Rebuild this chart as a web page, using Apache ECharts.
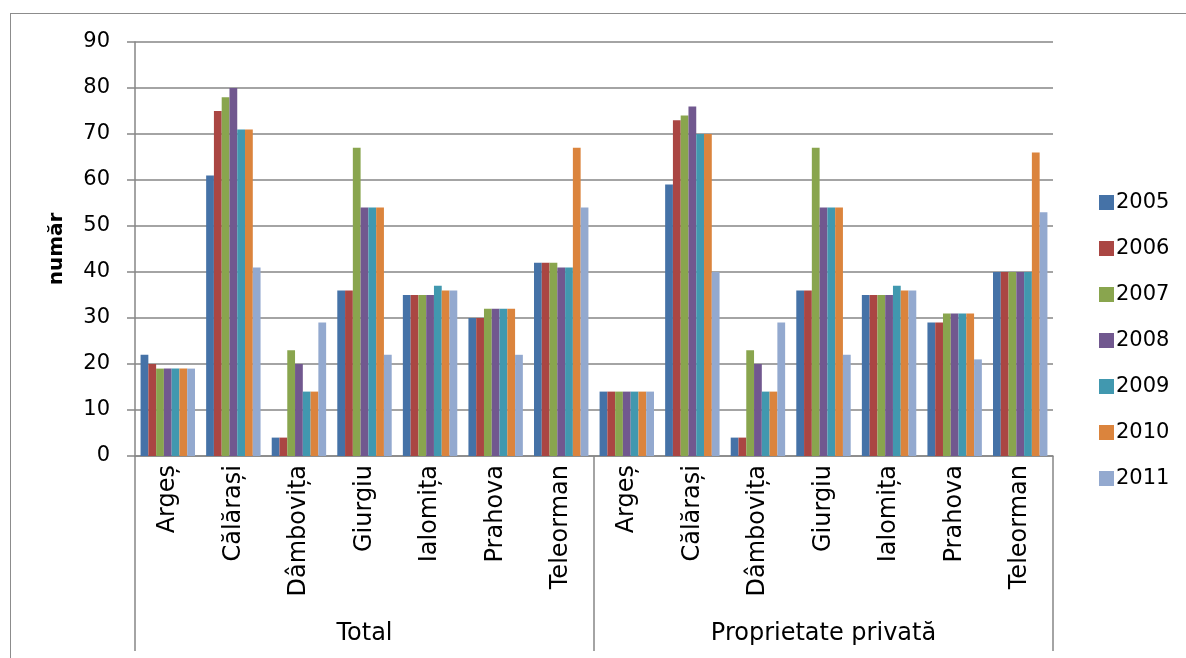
<!DOCTYPE html>
<html>
<head>
<meta charset="utf-8">
<script src="https://cdn.jsdelivr.net/npm/echarts@6/dist/echarts.min.js"></script>
<style>
  html, body { margin: 0; padding: 0; background: #fff; }
  #chart { width: 1186px; height: 658px; }
  #frame { position: absolute; left: 10px; top: 13px; width: 1200px; height: 700px; border: 1.5px solid #8c8c8c; pointer-events: none; }
</style>
</head>
<body>
<div id="chart"></div>
<div id="frame"></div>
<script>
const groups = ['Total', 'Proprietate privată'];
const counties = ['Argeș', 'Călărași', 'Dâmbovița', 'Giurgiu', 'Ialomița', 'Prahova', 'Teleorman'];
const years = ['2005', '2006', '2007', '2008', '2009', '2010', '2011'];
const colors = ['#4572A7', '#AA4643', '#89A54E', '#71588F', '#4198AF', '#DB843D', '#93A9CF'];

// values per year, order: Total (7 counties), then Proprietate privată (7 counties)
const v2005 = [22, 61, 4, 36, 35, 30, 42, 14, 59, 4, 36, 35, 29, 40];
const v2006 = [20, 75, 4, 36, 35, 30, 42, 14, 73, 4, 36, 35, 29, 40];
const v2007 = [19, 78, 23, 67, 35, 32, 42, 14, 74, 23, 67, 35, 31, 40];
const v2008 = [19, 80, 20, 54, 35, 32, 41, 14, 76, 20, 54, 35, 31, 40];
const v2009 = [19, 71, 14, 54, 37, 32, 41, 14, 70, 14, 54, 37, 31, 40];
const v2010 = [19, 71, 14, 54, 36, 32, 67, 14, 70, 14, 54, 36, 31, 66];
const v2011 = [19, 41, 29, 22, 36, 22, 54, 14, 40, 29, 22, 36, 21, 53];
const seriesValues = [v2005, v2006, v2007, v2008, v2009, v2010, v2011];

const catKeys = [];
groups.forEach(g => counties.forEach(c => catKeys.push(g + '|' + c)));

const FONT = "'DejaVu Sans', Verdana, sans-serif";
const GRAY = '#868686';

const chart = echarts.init(document.getElementById('chart'), null, { renderer: 'canvas' });
chart.setOption({
  animation: false,
  color: colors,
  textStyle: { fontFamily: FONT, color: '#000' },
  grid: { left: 135, right: 133, top: 42, bottom: 202, containLabel: false },
  legend: {
    orient: 'vertical',
    left: 1094,
    top: 187,
    icon: 'rect',
    itemWidth: 15,
    itemHeight: 15,
    itemGap: 25,
    data: years,
    textStyle: { fontFamily: FONT, fontSize: 21, color: '#000', padding: [0, 0, 0, -3] }
  },
  xAxis: [
    {
      type: 'category',
      data: catKeys,
      position: 'bottom',
      axisLine: { show: true, lineStyle: { color: GRAY, width: 1.5 } },
      axisTick: { show: false },
      axisLabel: {
        interval: 0,
        rotate: 90,
        margin: 9,
        fontSize: 24,
        fontFamily: FONT,
        color: '#000',
        formatter: v => v.split('|')[1]
      },
      splitLine: { show: false }
    },
    {
      type: 'category',
      data: groups,
      position: 'bottom',
      axisLine: { show: false },
      axisTick: { show: true, length: 195, interval: 0, lineStyle: { color: GRAY, width: 1.5 } },
      axisLabel: { interval: 0, margin: 166, fontSize: 24, fontFamily: FONT, color: '#000' },
      splitLine: { show: false }
    }
  ],
  yAxis: {
    type: 'value',
    min: 0,
    max: 90,
    interval: 10,
    name: 'număr',
    nameLocation: 'middle',
    nameGap: 68,
    nameTextStyle: { fontFamily: FONT, fontSize: 20, fontWeight: 'bold', color: '#000' },
    axisLine: { show: true, lineStyle: { color: GRAY, width: 1.5 } },
    axisTick: { show: true, length: 8, lineStyle: { color: GRAY, width: 1.5 } },
    axisLabel: { fontSize: 21, fontFamily: FONT, color: '#000', margin: 25 },
    splitLine: { show: true, lineStyle: { color: GRAY, width: 1.5 } }
  },
  series: years.map((y, i) => ({
    name: y,
    type: 'bar',
    xAxisIndex: 0,
    barGap: '0%',
    barCategoryGap: '17%',
    data: seriesValues[i],
    itemStyle: { color: colors[i] }
  }))
});
</script>
</body>
</html>
